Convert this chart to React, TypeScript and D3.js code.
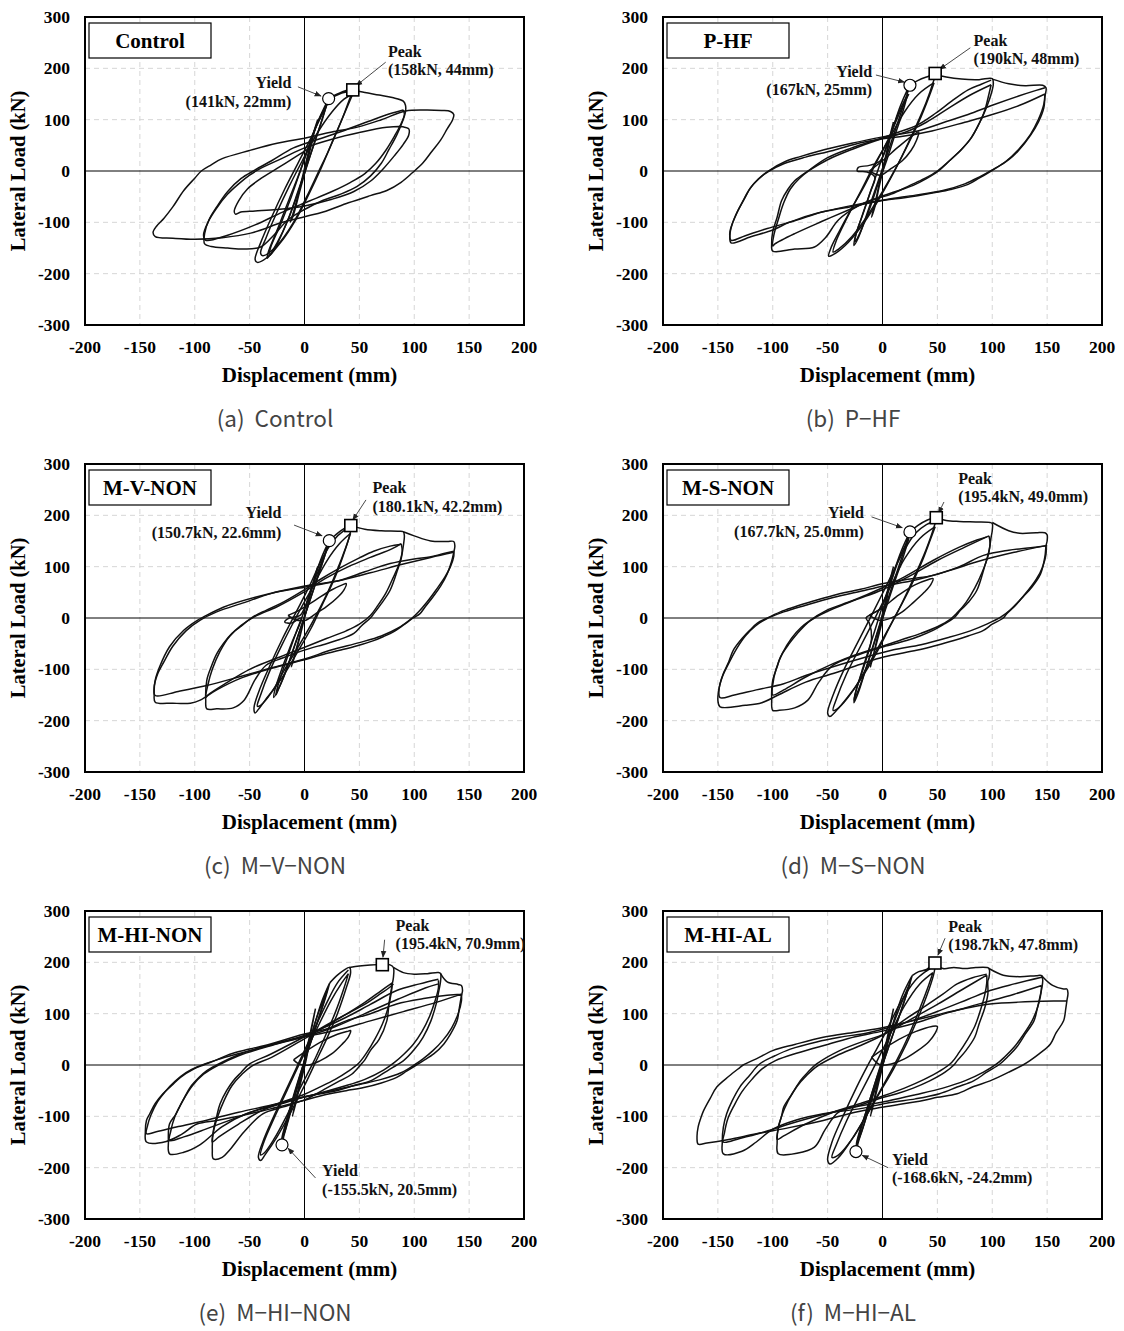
import React from 'react';
import * as d3 from 'd3';

type Pt = [number, number];

// ---------- axis data ----------
const xTicks = [-200, -150, -100, -50, 0, 50, 100, 150, 200];
const yTicks = [-300, -200, -100, 0, 100, 200, 300];
const xGrid = [-150, -100, -50, 50, 100, 150];
const yGrid = [-200, -100, 100, 200];

const specimenNames = ['Control', 'P-HF', 'M-V-NON', 'M-S-NON', 'M-HI-NON', 'M-HI-AL'];
const captions = ['(a)  Control', '(b)  P\u2212HF', '(c)  M\u2212V\u2212NON', '(d)  M\u2212S\u2212NON', '(e)  M\u2212HI\u2212NON', '(f)  M\u2212HI\u2212AL'];

const yieldPoints: Pt[] = [[22, 141], [25, 167], [22.6, 150.7], [25, 167.7], [-20.5, -155.5], [-24.2, -168.6]];
const peakPoints: Pt[] = [[44, 158], [48, 190], [42.2, 180.1], [49, 195.4], [70.9, 195.4], [47.8, 198.7]];
const yieldLabels = ['(141kN, 22mm)', '(167kN, 25mm)', '(150.7kN, 22.6mm)', '(167.7kN, 25.0mm)', '(-155.5kN, 20.5mm)', '(-168.6kN, -24.2mm)'];
const peakLabels = ['(158kN, 44mm)', '(190kN, 48mm)', '(180.1kN, 42.2mm)', '(195.4kN, 49.0mm)', '(195.4kN, 70.9mm)', '(198.7kN, 47.8mm)'];

// ---------- hysteresis loops (displacement mm, load kN) ----------
const controlLoops: Pt[][] = [
  [[12,100],[9,80],[4,40],[0,5],[-5,-40],[-10,-80],[-13,-100],[-10,-85],[-5,-45],[0,-5],[5,40],[10,85],[12,100]],
  [[22,141],[19,120],[13,80],[6,35],[0,-5],[-8,-55],[-18,-110],[-28,-155],[-32,-165],[-31,-150],[-22,-105],[-12,-50],[-3,5],[6,60],[14,105],[22,141]],
  [[20,128],[16,100],[9,55],[2,10],[-6,-40],[-15,-95],[-25,-140],[-34,-170],[-33,-158],[-24,-110],[-14,-55],[-4,0],[5,55],[13,100],[20,128]],
  [[22,141],[30,150],[38,157],[44,158],[41,140],[34,100],[24,50],[14,0],[4,-45],[-8,-95],[-22,-140],[-35,-170],[-43,-178],[-45,-172],[-40,-140],[-30,-90],[-18,-35],[-6,15],[6,65],[16,110],[24,140],[34,152],[44,156]],
  [[44,150],[40,130],[32,90],[22,40],[12,-5],[2,-50],[-10,-100],[-25,-145],[-38,-165],[-40,-160],[-35,-130],[-25,-80],[-14,-30],[-2,20],[12,75],[25,115],[36,140],[44,150]],
  [[44,158],[55,153],[68,148],[80,143],[90,136],[92,128],[92,115],[89,95],[84,70],[77,42],[70,15],[60,-10],[48,-30],[33,-45],[16,-58],[0,-75],[-15,-95],[-28,-125],[-40,-148],[-55,-152],[-70,-150],[-85,-147],[-91,-142],[-91,-122],[-87,-95],[-80,-70],[-70,-40],[-58,-15],[-45,2],[-30,20],[-10,45],[10,60],[35,78],[60,98],[80,113],[90,119]],
  [[90,119],[91,110],[88,92],[82,68],[74,40],[65,15],[55,-5],[42,-22],[25,-40],[5,-58],[-20,-80],[-45,-105],[-70,-125],[-90,-135],[-92,-125],[-88,-100],[-80,-72],[-70,-45],[-60,-25],[-50,-8],[-40,5],[-20,25],[0,45],[25,62],[50,75],[75,85],[90,86],[95,82],[95,70],[90,52],[82,30],[72,5],[60,-20],[45,-40],[25,-55],[0,-68],[-25,-75],[-45,-78],[-58,-80],[-63,-84],[-64,-78],[-60,-58],[-52,-35],[-40,-15],[-25,5],[-10,25],[5,45]],
  [[0,64],[25,76],[49,86],[70,100],[92,117],[110,119],[125,118],[133,116],[136,110],[135,100],[130,82],[124,60],[116,38],[108,16],[98,-4],[88,-22],[75,-38],[60,-48],[40,-62],[17,-80],[0,-89],[-20,-100],[-49,-121],[-75,-130],[-100,-133],[-120,-131],[-136,-128],[-138,-120],[-135,-108],[-128,-92],[-120,-70],[-110,-38],[-100,-14],[-94,0],[-85,12],[-75,24],[-50,40],[-25,54],[0,64]],
];

const phfLoops: Pt[][] = [
  [[10,95],[7,70],[3,30],[-2,-15],[-6,-55],[-10,-90],[-7,-70],[-3,-30],[2,15],[6,55],[10,95]],
  [[25,167],[21,140],[14,95],[7,50],[0,5],[-8,-45],[-16,-95],[-22,-130],[-26,-145],[-25,-130],[-19,-90],[-10,-35],[-2,15],[8,75],[16,125],[22,155],[25,167]],
  [[23,150],[18,112],[10,62],[4,22],[-4,-25],[-12,-75],[-20,-118],[-25,-138],[-24,-122],[-18,-85],[-11,-40],[-7,-12],[-14,-2],[-23,0],[-22,7],[-12,11],[-2,20],[6,62],[14,110],[23,150]],
  [[25,167],[32,176],[40,183],[48,188],[46,172],[40,135],[30,85],[18,30],[6,-20],[-6,-65],[-20,-110],[-34,-145],[-45,-163],[-49,-166],[-47,-150],[-40,-120],[-30,-80],[-18,-35],[-6,15],[6,65],[16,115],[24,150]],
  [[47,172],[43,148],[35,105],[24,55],[12,5],[0,-40],[-14,-88],[-28,-128],[-40,-152],[-45,-158],[-42,-135],[-32,-90],[-20,-40],[-8,10],[6,62],[20,115],[33,150],[47,172]],
  [[48,188],[58,183],[72,179],[88,178],[100,180],[101,170],[99,150],[94,120],[88,92],[81,65],[72,42],[62,22],[51,0],[40,-15],[28,-28],[12,-40],[-4,-52],[-22,-68],[-40,-95],[-52,-130],[-62,-148],[-80,-152],[-100,-156],[-101,-142],[-100,-118],[-96,-90],[-92,-58],[-86,-35],[-80,-19],[-68,0],[-50,26],[-28,45],[-1,64],[15,76],[32,90],[48,112],[63,136],[78,158],[90,169],[99,177]],
  [[99,168],[97,150],[93,117],[87,88],[80,62],[71,40],[60,18],[50,0],[38,-15],[25,-28],[8,-45],[-10,-57],[-30,-75],[-55,-98],[-80,-122],[-98,-142],[-100,-146],[-99,-125],[-95,-95],[-90,-62],[-84,-35],[-76,-15],[-66,2],[-50,22],[-28,42],[-2,62],[20,75],[40,95],[60,122],[80,148],[99,168]],
  [[100,179],[115,170],[130,166],[146,167],[149,162],[148,145],[147,123],[142,95],[135,70],[124,40],[115,22],[108,12],[99,0],[88,-14],[78,-26],[62,-36],[48,-42],[32,-48],[20,-52],[-1,-58],[-30,-70],[-59,-82],[-85,-100],[-100,-115],[-120,-128],[-138,-140],[-139,-125],[-137,-104],[-132,-78],[-126,-55],[-120,-32],[-112,-14],[-104,0],[-89,18],[-75,28],[-59,38],[-28,54],[-1,66],[16,72],[32,78],[55,94],[78,110],[100,128],[124,146],[140,157],[148,162]],
  [[148,150],[147,130],[142,100],[135,72],[124,42],[112,18],[100,2],[88,-12],[75,-25],[55,-38],[30,-47],[5,-55],[-25,-66],[-55,-80],[-80,-97],[-105,-112],[-125,-126],[-138,-135],[-139,-118],[-134,-88],[-128,-62],[-121,-35],[-113,-15],[-104,-1],[-90,14],[-70,27],[-45,40],[-20,55],[0,63],[20,68],[45,78],[75,95],[100,110],[125,128],[148,150]],
  [[-12,0],[0,20],[15,48],[28,70],[33,76],[31,60],[26,40],[18,20],[8,5],[-2,-8],[-12,0]],
];

const mvnonLoops: Pt[][] = [
  [[12,100],[9,75],[4,35],[0,0],[-5,-40],[-10,-80],[-12,-95],[-9,-75],[-4,-35],[0,0],[5,45],[12,100]],
  [[22.6,150.7],[19,125],[12,80],[5,35],[-2,-10],[-10,-60],[-18,-110],[-24,-140],[-26,-150],[-24,-130],[-17,-85],[-8,-30],[0,15],[8,70],[16,120],[22.6,150.7]],
  [[21,138],[16,105],[9,60],[2,15],[-6,-35],[-14,-85],[-22,-130],[-28,-155],[-27,-140],[-20,-95],[-11,-45],[-3,0],[-12,-10],[-18,-8],[-14,0],[-4,5],[6,55],[14,100],[21,138]],
  [[22.6,150.7],[30,165],[36,174],[42.2,180],[41,160],[35,120],[26,70],[16,25],[6,-20],[-6,-65],[-20,-115],[-34,-155],[-42,-178],[-45,-185],[-46,-175],[-41,-140],[-32,-95],[-20,-40],[-8,10],[4,60],[16,115],[26,150],[36,170],[42,176]],
  [[42,165],[38,140],[30,95],[20,45],[8,-5],[-4,-50],[-18,-100],[-30,-145],[-40,-170],[-43,-172],[-40,-150],[-32,-105],[-20,-50],[-8,0],[6,55],[20,110],[32,145],[42,165]],
  [[42.2,180],[55,173],[70,170],[85,169],[90,168],[91,160],[90,140],[88,115],[85,95],[78,54],[70,28],[63,8],[60,0],[52,-15],[45,-30],[32,-42],[20,-50],[-1,-63],[-20,-78],[-35,-92],[-45,-120],[-55,-160],[-65,-175],[-80,-177],[-89,-177],[-90,-160],[-89,-121],[-85,-95],[-80,-70],[-74,-50],[-66,-30],[-59,-18],[-47,2],[-35,15],[-22,28],[-1,54],[15,76],[32,97],[50,117],[63,130],[78,140],[87,143]],
  [[88,145],[89,130],[86,104],[80,75],[74,48],[67,25],[60,5],[50,-12],[38,-25],[20,-40],[-1,-58],[-25,-78],[-50,-100],[-70,-125],[-88,-150],[-90,-155],[-88,-130],[-84,-100],[-77,-65],[-68,-35],[-58,-15],[-45,3],[-25,22],[-1,50],[20,78],[40,100],[60,118],[80,135],[88,145]],
  [[90,168],[100,160],[115,150],[130,149],[136,149],[137,140],[136,128],[134,110],[130,86],[124,62],[117,41],[110,22],[105,8],[99,0],[90,-14],[81,-27],[72,-36],[63,-44],[48,-54],[32,-63],[15,-72],[-1,-82],[-30,-98],[-59,-118],[-80,-140],[-95,-160],[-104,-166],[-120,-166],[-136,-164],[-137,-150],[-136,-121],[-132,-95],[-123,-56],[-110,-24],[-98,-5],[-92,2],[-74,21],[-44,41],[-1,62],[32,73],[55,90],[78,106],[100,115],[114,119],[126,125],[136,130]],
  [[136,130],[136,120],[133,100],[128,80],[120,55],[112,32],[104,12],[98,0],[85,-20],[70,-35],[50,-48],[25,-62],[0,-80],[-30,-97],[-60,-115],[-90,-132],[-115,-143],[-136,-151],[-137,-135],[-134,-110],[-128,-85],[-120,-55],[-108,-25],[-95,-4],[-80,12],[-55,30],[-30,48],[0,60],[30,72],[60,88],[90,105],[115,118],[136,128]],
  [[-15,5],[-5,15],[10,35],[25,55],[35,65],[38,67],[36,55],[30,40],[20,22],[10,8],[0,-5],[-10,-2],[-15,5]],
];

const msnonLoops: Pt[][] = [
  [[10,100],[7,75],[3,35],[-2,-10],[-7,-60],[-11,-95],[-8,-70],[-3,-30],[2,15],[6,60],[10,100]],
  [[25,167.7],[21,140],[14,95],[7,50],[0,5],[-8,-50],[-16,-105],[-22,-145],[-26,-165],[-25,-150],[-19,-105],[-10,-45],[-2,10],[8,75],[17,130],[25,167.7]],
  [[24,155],[19,120],[11,70],[4,25],[-4,-25],[-13,-85],[-21,-135],[-26,-160],[-24,-140],[-17,-95],[-10,-40],[-12,-10],[-15,0],[-10,8],[-2,18],[7,65],[15,115],[24,155]],
  [[25,167.7],[32,180],[40,190],[49,195.4],[47,178],[40,135],[30,85],[18,30],[6,-20],[-6,-70],[-20,-120],[-34,-160],[-44,-185],[-48,-192],[-50,-185],[-45,-150],[-35,-100],[-22,-45],[-10,5],[4,65],[18,125],[30,165],[40,182],[49,190]],
  [[48,178],[44,155],[36,110],[25,58],[12,5],[0,-42],[-14,-95],[-28,-145],[-40,-175],[-45,-180],[-42,-158],[-33,-110],[-20,-55],[-8,-5],[6,55],[20,115],[34,155],[48,178]],
  [[49,195.4],[58,190],[70,188],[85,187],[98,186],[100,184],[100,170],[99,158],[97,130],[93,100],[86,54],[78,30],[71,15],[65,0],[56,-12],[46,-24],[34,-35],[22,-44],[1,-56],[-20,-70],[-45,-92],[-58,-125],[-68,-160],[-80,-175],[-95,-180],[-100,-180],[-101,-160],[-100,-121],[-96,-95],[-93,-76],[-85,-50],[-78,-31],[-66,-5],[-51,15],[-27,34],[1,60],[20,80],[46,112],[70,138],[86,152],[95,158]],
  [[97,160],[98,145],[96,120],[91,90],[84,58],[76,30],[68,10],[62,-2],[50,-17],[35,-30],[18,-42],[0,-55],[-25,-72],[-45,-89],[-70,-115],[-90,-140],[-100,-150],[-100,-130],[-97,-100],[-91,-68],[-83,-40],[-74,-18],[-62,0],[-45,18],[-25,35],[0,55],[25,82],[50,112],[75,138],[97,160]],
  [[100,186],[115,170],[125,165],[140,166],[148,166],[150,162],[150,150],[149,141],[148,120],[144,86],[136,60],[128,41],[120,22],[113,8],[110,0],[100,-12],[92,-24],[78,-35],[65,-44],[48,-54],[31,-63],[1,-76],[-20,-90],[-45,-108],[-70,-125],[-95,-150],[-110,-165],[-125,-170],[-148,-173],[-150,-160],[-148,-128],[-145,-108],[-140,-85],[-136,-63],[-128,-40],[-121,-24],[-114,-10],[-106,-1],[-93,12],[-81,21],[-63,33],[-45,44],[-20,56],[1,67],[25,76],[46,83],[70,100],[92,122],[115,132],[135,137],[150,141]],
  [[149,141],[149,125],[146,100],[140,75],[132,52],[124,32],[116,15],[108,2],[95,-12],[80,-25],[60,-38],[35,-52],[10,-62],[-15,-76],[-45,-95],[-70,-112],[-90,-128],[-115,-140],[-135,-150],[-148,-155],[-149,-140],[-146,-115],[-140,-88],[-133,-60],[-125,-35],[-116,-16],[-106,-2],[-90,12],[-70,25],[-45,40],[-20,52],[0,62],[30,74],[60,92],[90,112],[120,128],[149,141]],
  [[-12,5],[0,20],[15,45],[30,65],[42,75],[46,77],[44,65],[38,50],[28,30],[18,12],[8,0],[-2,-5],[-12,5]],
];

const mhinonLoops: Pt[][] = [
  [[10,110],[7,80],[3,40],[-2,-10],[-7,-60],[-11,-100],[-8,-75],[-3,-30],[2,15],[6,65],[10,110]],
  [[23,160],[19,130],[12,85],[5,40],[-2,-5],[-10,-60],[-17,-115],[-20.5,-155.5],[-19,-140],[-13,-95],[-6,-40],[0,10],[8,70],[16,125],[23,160]],
  [[21,148],[16,112],[9,65],[2,20],[-5,-30],[-12,-80],[-18,-130],[-21,-145],[-18,-120],[-11,-70],[-4,-20],[3,30],[10,85],[21,148]],
  [[23,160],[30,175],[36,185],[41,190],[42,180],[38,150],[30,100],[20,50],[10,5],[0,-40],[-12,-90],[-25,-140],[-36,-175],[-40,-186],[-42,-180],[-38,-150],[-28,-100],[-16,-45],[-4,10],[8,65],[20,120],[30,160],[40,185]],
  [[40,178],[36,150],[28,102],[18,52],[8,5],[-4,-45],[-16,-98],[-28,-145],[-37,-172],[-40,-175],[-37,-150],[-28,-105],[-16,-50],[-4,5],[10,65],[24,125],[34,160],[40,178]],
  [[41,190],[50,193],[60,195],[70,196],[78,195],[81,190],[81,170],[80,158],[77,120],[75,86],[68,50],[60,28],[55,10],[51,0],[43,-18],[32,-31],[20,-45],[11,-56],[-1,-69],[-20,-82],[-38,-95],[-55,-130],[-68,-165],[-75,-180],[-83,-183],[-84,-165],[-83,-128],[-80,-100],[-77,-76],[-71,-50],[-65,-31],[-58,-15],[-50,2],[-31,21],[-1,54],[15,72],[30,90],[54,117],[70,140],[78,152],[81,158]],
  [[80,160],[79,140],[76,110],[71,80],[64,50],[57,25],[50,5],[40,-12],[28,-28],[12,-45],[-1,-58],[-20,-72],[-40,-90],[-60,-115],[-78,-140],[-84,-150],[-83,-130],[-79,-100],[-73,-68],[-66,-40],[-57,-18],[-48,-2],[-30,15],[-5,45],[15,70],[35,95],[55,122],[70,145],[80,160]],
  [[81,190],[90,180],[100,177],[112,178],[122,180],[124,178],[124,164],[122,140],[120,119],[115,85],[108,54],[100,30],[90,8],[84,0],[72,-16],[60,-31],[45,-40],[29,-50],[12,-57],[-1,-63],[-25,-78],[-53,-95],[-75,-120],[-95,-155],[-110,-170],[-123,-173],[-124,-150],[-123,-115],[-117,-95],[-111,-70],[-104,-43],[-96,-24],[-89,-11],[-80,0],[-59,21],[-28,41],[-1,57],[20,75],[38,93],[60,118],[84,145],[105,158],[122,167]],
  [[122,165],[122,150],[119,125],[114,95],[107,65],[99,40],[90,20],[82,5],[72,-10],[55,-28],[35,-42],[10,-57],[-15,-70],[-40,-85],[-65,-105],[-90,-125],[-110,-140],[-123,-147],[-122,-130],[-118,-100],[-111,-70],[-102,-40],[-92,-18],[-80,-2],[-60,18],[-30,38],[0,55],[25,72],[55,100],[85,128],[110,150],[122,158]],
  [[124,178],[130,162],[140,157],[143,155],[144,145],[143,135],[141,110],[139,86],[133,60],[127,41],[118,22],[108,8],[102,0],[93,-12],[84,-24],[70,-35],[54,-44],[38,-50],[23,-56],[-1,-69],[-20,-80],[-38,-89],[-60,-100],[-80,-108],[-98,-115],[-112,-135],[-126,-149],[-144,-150],[-145,-130],[-144,-108],[-141,-95],[-136,-75],[-129,-56],[-121,-40],[-113,-24],[-101,-8],[-92,0],[-80,10],[-68,21],[-50,31],[-31,41],[-1,60],[20,70],[38,86],[60,100],[84,119],[110,130],[130,136],[143,138]],
  [[143,138],[143,125],[140,100],[134,72],[126,48],[117,28],[108,12],[100,0],[88,-15],[70,-28],[50,-38],[25,-50],[0,-62],[-30,-78],[-60,-92],[-90,-108],[-115,-120],[-135,-130],[-144,-134],[-143,-118],[-140,-98],[-134,-72],[-127,-52],[-118,-32],[-108,-15],[-98,-4],[-80,10],[-55,25],[-25,42],[0,55],[30,68],[60,86],[90,104],[120,122],[143,138]],
  [[-10,10],[0,25],[15,45],[30,60],[40,66],[42,67],[40,55],[34,40],[25,22],[14,8],[4,0],[-5,2],[-10,10]],
];

const mhialLoops: Pt[][] = [
  [[10,110],[7,80],[3,40],[-2,-10],[-7,-60],[-11,-100],[-8,-75],[-3,-30],[2,15],[6,65],[10,110]],
  [[27,174],[23,145],[16,100],[8,50],[0,0],[-8,-55],[-16,-110],[-22,-150],[-24.2,-168.6],[-23,-150],[-17,-105],[-9,-50],[-1,5],[8,70],[18,135],[27,174]],
  [[25,160],[20,125],[12,75],[4,25],[-4,-25],[-12,-80],[-19,-130],[-24,-155],[-21,-130],[-14,-85],[-6,-30],[2,20],[10,80],[25,160]],
  [[27,174],[33,182],[40,186],[47.8,198.7],[47,180],[42,145],[33,95],[22,42],[10,-8],[-2,-52],[-15,-100],[-28,-145],[-40,-180],[-48,-193],[-50,-185],[-46,-150],[-36,-100],[-24,-45],[-12,5],[2,60],[16,120],[30,165],[40,183],[47,192]],
  [[46,180],[42,155],[34,110],[24,58],[12,5],[0,-42],[-14,-95],[-28,-145],[-40,-175],[-46,-180],[-42,-155],[-33,-110],[-20,-55],[-8,-5],[6,55],[20,115],[34,158],[46,180]],
  [[47.8,198.7],[55,188],[65,190],[75,188],[85,190],[95,190],[97,188],[97,170],[96,164],[96,138],[93,110],[88,80],[84,54],[76,28],[68,8],[65,0],[57,-14],[43,-31],[28,-45],[13,-56],[1,-63],[-20,-78],[-40,-92],[-52,-125],[-62,-160],[-78,-172],[-95,-173],[-96,-150],[-95,-121],[-92,-100],[-90,-82],[-82,-55],[-75,-31],[-68,-14],[-60,2],[-39,28],[-15,48],[1,60],[20,88],[37,112],[55,138],[68,158],[82,170],[95,177]],
  [[95,175],[95,160],[93,135],[89,105],[84,75],[77,48],[70,25],[63,5],[52,-12],[38,-28],[20,-45],[1,-60],[-20,-75],[-45,-92],[-70,-115],[-90,-138],[-96,-145],[-95,-125],[-92,-100],[-86,-70],[-78,-42],[-69,-20],[-60,-3],[-42,18],[-20,38],[0,58],[25,88],[50,118],[75,150],[95,175]],
  [[97,188],[110,175],[125,172],[140,174],[145,174],[146,165],[145,148],[144,138],[141,110],[138,86],[130,60],[122,34],[115,18],[107,2],[95,-14],[83,-31],[68,-43],[52,-56],[30,-66],[7,-73],[-20,-85],[-54,-95],[-80,-108],[-100,-125],[-115,-150],[-128,-168],[-145,-173],[-146,-150],[-145,-121],[-142,-95],[-137,-70],[-130,-43],[-121,-20],[-112,2],[-98,18],[-84,31],[-60,45],[-39,54],[-15,62],[1,70],[25,85],[52,106],[78,128],[98,145],[120,158],[145,171]],
  [[145,155],[144,135],[141,110],[136,85],[128,58],[120,35],[111,15],[104,2],[92,-14],[76,-30],[55,-45],[30,-58],[5,-70],[-25,-82],[-55,-97],[-85,-115],[-110,-132],[-130,-143],[-145,-150],[-144,-132],[-141,-105],[-135,-78],[-128,-52],[-119,-28],[-110,-8],[-98,8],[-75,25],[-50,40],[-25,55],[0,66],[30,82],[60,102],[90,120],[120,138],[145,155]],
  [[145,174],[155,155],[165,148],[168,148],[169,140],[168,125],[167,110],[165,86],[158,62],[153,41],[143,22],[134,8],[128,0],[115,-14],[98,-31],[83,-42],[68,-56],[50,-63],[37,-69],[1,-82],[-25,-92],[-54,-108],[-85,-122],[-115,-134],[-140,-145],[-160,-152],[-168,-154],[-169,-140],[-168,-121],[-165,-100],[-163,-89],[-157,-65],[-151,-43],[-140,-22],[-130,-5],[-127,0],[-115,12],[-100,28],[-80,40],[-54,54],[-25,64],[1,73],[25,85],[52,99],[75,110],[98,119],[130,123],[168,125]],
  [[-10,15],[0,30],[15,50],[30,65],[45,75],[50,75],[48,62],[42,45],[32,28],[20,12],[8,2],[-2,0],[-10,15]],
];

const panelLoops: Pt[][][] = [controlLoops, phfLoops, mvnonLoops, msnonLoops, mhinonLoops, mhialLoops];

// ---------- layout ----------
const PLOT_W = 439;
const PLOT_H = 308;
const lefts = [85, 663];
const tops = [17, 464, 911];

type Annot = {
  peakX: number; peakY1: number; peakY2: number; peakAnchor: string; peakArrow: [Pt, Pt];
  yieldX: number; yieldY1: number; yieldY2: number; yieldAnchor: string; yieldArrow: [Pt, Pt];
};
const annotLayout: Annot[] = [
  { peakX: 76, peakY1: 232, peakY2: 197, peakAnchor: 'start', peakArrow: [[74, 212], [47, 166]],
    yieldX: -12, yieldY1: 173, yieldY2: 136, yieldAnchor: 'end', yieldArrow: [[-6, 164], [15, 146]] },
  { peakX: 83, peakY1: 255, peakY2: 220, peakAnchor: 'start', peakArrow: [[80, 240], [52, 198]],
    yieldX: -9.5, yieldY1: 193, yieldY2: 158, yieldAnchor: 'end', yieldArrow: [[-6, 187], [20, 173]] },
  { peakX: 62, peakY1: 255, peakY2: 218, peakAnchor: 'start', peakArrow: [[56, 230], [44, 191]],
    yieldX: -21, yieldY1: 205, yieldY2: 166, yieldAnchor: 'end', yieldArrow: [[-9.5, 181], [16, 160]] },
  { peakX: 69, peakY1: 271, peakY2: 236, peakAnchor: 'start', peakArrow: [[56, 226], [51, 204]],
    yieldX: -17, yieldY1: 205, yieldY2: 169, yieldAnchor: 'end', yieldArrow: [[-10, 197], [18, 176]] },
  { peakX: 83, peakY1: 271, peakY2: 236, peakAnchor: 'start', peakArrow: [[73, 244], [71.5, 210]],
    yieldX: 16, yieldY1: -205, yieldY2: -242, yieldAnchor: 'start', yieldArrow: [[10, -220], [-15, -162]] },
  { peakX: 60, peakY1: 269, peakY2: 234, peakAnchor: 'start', peakArrow: [[57, 247], [50.5, 214]],
    yieldX: 8.6, yieldY1: -185, yieldY2: -220, yieldAnchor: 'start', yieldArrow: [[5, -200], [-18.5, -176]] },
];

const SERIF = "'Liberation Serif', 'Times New Roman', serif";
const CAPTION_FONT = "'Noto Sans CJK KR', 'Noto Sans', sans-serif";

function Panel({ idx }: { idx: number }) {
  const left = lefts[idx % 2];
  const top = tops[Math.floor(idx / 2)];
  const x = d3.scaleLinear().domain([-200, 200]).range([left, left + PLOT_W]);
  const y = d3.scaleLinear().domain([-300, 300]).range([top + PLOT_H, top]);
  const line = d3.line<Pt>().x(d => x(d[0])).y(d => y(d[1])).curve(d3.curveCatmullRom.alpha(0.5));
  const a = annotLayout[idx];
  const yp = yieldPoints[idx];
  const pp = peakPoints[idx];
  const clipId = `clip${idx}`;
  return (
    <g>
      <defs>
        <clipPath id={clipId}>
          <rect x={left} y={top} width={PLOT_W} height={PLOT_H} />
        </clipPath>
      </defs>
      {xGrid.map(v => (
        <line key={'gx' + v} x1={x(v)} x2={x(v)} y1={top} y2={top + PLOT_H} stroke="#d6d6d6" strokeWidth={1} strokeDasharray="5,4" />
      ))}
      {yGrid.map(v => (
        <line key={'gy' + v} x1={left} x2={left + PLOT_W} y1={y(v)} y2={y(v)} stroke="#d6d6d6" strokeWidth={1} strokeDasharray="5,4" />
      ))}
      <line x1={x(0)} x2={x(0)} y1={top} y2={top + PLOT_H} stroke="#000" strokeWidth={1} />
      <line x1={left} x2={left + PLOT_W} y1={y(0)} y2={y(0)} stroke="#000" strokeWidth={1} />
      <g clipPath={`url(#${clipId})`}>
        {panelLoops[idx].map((lp, i) => (
          <path key={i} d={line(lp) || ''} fill="none" stroke="#111" strokeWidth={1.5} strokeLinejoin="round" />
        ))}
      </g>
      <rect x={left} y={top} width={PLOT_W} height={PLOT_H} fill="none" stroke="#000" strokeWidth={2} />
      {yTicks.map(v => (
        <text key={'ty' + v} x={left - 15} y={y(v)} textAnchor="end" dominantBaseline="central"
          fontFamily={SERIF} fontWeight="bold" fontSize={17.5} fill="#000">{v}</text>
      ))}
      {xTicks.map(v => (
        <text key={'tx' + v} x={x(v)} y={top + PLOT_H + 28} textAnchor="middle"
          fontFamily={SERIF} fontWeight="bold" fontSize={17.5} fill="#000">{v}</text>
      ))}
      <text x={left + PLOT_W / 2 + 5} y={top + PLOT_H + 57} textAnchor="middle"
        fontFamily={SERIF} fontWeight="bold" fontSize={21} fill="#000">Displacement (mm)</text>
      <text transform={`translate(${left - 67},${top + PLOT_H / 2}) rotate(-90)`} textAnchor="middle" dominantBaseline="central"
        fontFamily={SERIF} fontWeight="bold" fontSize={20.5} fill="#000">Lateral Load (kN)</text>
      <rect x={left + 4} y={top + 6} width={122} height={35} fill="#fff" stroke="#000" strokeWidth={1.2} />
      <text x={left + 65} y={top + 24} textAnchor="middle" dominantBaseline="central"
        fontFamily={SERIF} fontWeight="bold" fontSize={21} fill="#000">{specimenNames[idx]}</text>
      <line x1={x(a.peakArrow[0][0])} y1={y(a.peakArrow[0][1])} x2={x(a.peakArrow[1][0])} y2={y(a.peakArrow[1][1])}
        stroke="#333" strokeWidth={0.9} markerEnd="url(#arrowHead)" />
      <line x1={x(a.yieldArrow[0][0])} y1={y(a.yieldArrow[0][1])} x2={x(a.yieldArrow[1][0])} y2={y(a.yieldArrow[1][1])}
        stroke="#333" strokeWidth={0.9} markerEnd="url(#arrowHead)" />
      <circle cx={x(yp[0])} cy={y(yp[1])} r={6} fill="#fff" stroke="#000" strokeWidth={1.2} />
      <rect x={x(pp[0]) - 6} y={y(pp[1]) - 6} width={12} height={12} fill="#fff" stroke="#000" strokeWidth={1.6} />
      <text x={x(a.peakX)} y={y(a.peakY1)} textAnchor={a.peakAnchor as any} dominantBaseline="central"
        fontFamily={SERIF} fontWeight="bold" fontSize={16} fill="#111">Peak</text>
      <text x={x(a.peakX)} y={y(a.peakY2)} textAnchor={a.peakAnchor as any} dominantBaseline="central"
        fontFamily={SERIF} fontWeight="bold" fontSize={16} fill="#111">{peakLabels[idx]}</text>
      <text x={x(a.yieldX)} y={y(a.yieldY1)} textAnchor={a.yieldAnchor as any} dominantBaseline="central"
        fontFamily={SERIF} fontWeight="bold" fontSize={16} fill="#111">Yield</text>
      <text x={x(a.yieldX)} y={y(a.yieldY2)} textAnchor={a.yieldAnchor as any} dominantBaseline="central"
        fontFamily={SERIF} fontWeight="bold" fontSize={16} fill="#111">{yieldLabels[idx]}</text>
      <text x={left + 190} y={top + PLOT_H + 102} textAnchor="middle"
        fontFamily={CAPTION_FONT} fontSize={22.5} fill="#444" style={{ whiteSpace: 'pre' }}>{captions[idx]}</text>
    </g>
  );
}

export default function App() {
  return (
    <svg width={1124} height={1331} viewBox="0 0 1124 1331"
      style={{ position: 'absolute', left: 0, top: 0, background: '#fff' }}>
      <defs>
        <marker id="arrowHead" viewBox="0 0 10 10" refX={9} refY={5} markerWidth={7} markerHeight={7} orient="auto" markerUnits="userSpaceOnUse">
          <path d="M0,1 L10,5 L0,9 Z" fill="#222" />
        </marker>
      </defs>
      <rect x={0} y={0} width={1124} height={1331} fill="#fff" />
      {[0, 1, 2, 3, 4, 5].map(i => <Panel key={i} idx={i} />)}
    </svg>
  );
}
